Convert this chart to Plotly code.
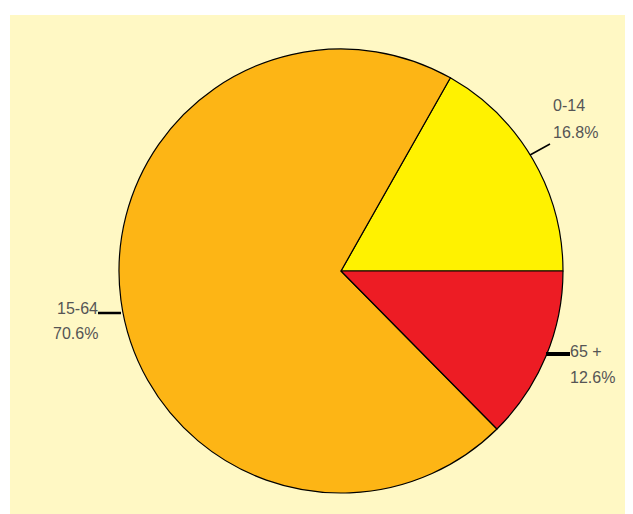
import plotly.graph_objects as go

labels = ["0-14", "15-64", "65 +"]
values = [16.8, 70.6, 12.6]
colors = ["#FFF200", "#FDB515", "#ED1C24"]

OFF = 8  # page body margin
W, H = 633 - OFF, 514 - OFF
ML, MT = 10 - OFF, 15 - OFF
PW, PH = W - ML, H - MT

def px(X):
    return (X - OFF - ML) / PW

def py(Y):
    return (H - (Y - OFF)) / PH

# counterclockwise slices, first slice (0-14) beginning at 3 o'clock
rot = 90 - 360 * values[0] / sum(values)

fig = go.Figure(go.Pie(
    labels=labels,
    values=values,
    marker=dict(colors=colors, line=dict(color="#000000", width=1.2)),
    sort=False,
    direction="counterclockwise",
    rotation=rot,
    textinfo="none",
    hoverinfo="label+percent",
    domain=dict(x=[px(119), px(563)], y=[py(493), py(49)]),
    showlegend=False,
))

font = dict(family="Liberation Sans, Arial, sans-serif", size=16, color="#555555")

label_pos = [
    (551, 106, 132, "left"),
    (100, 309, 333, "right"),
    (568, 351, 377, "left"),
]
annotations = []
for (lab, val), (x, y1, y2, anc) in zip(zip(labels, values), label_pos):
    annotations.append(dict(x=px(x), y=py(y1), xref="paper", yref="paper", text=lab,
                            showarrow=False, xanchor=anc, yanchor="middle", font=font))
    annotations.append(dict(x=px(x), y=py(y2), xref="paper", yref="paper", text=f"{val:.1f}%",
                            showarrow=False, xanchor=anc, yanchor="middle", font=font))

leaders = [
    ((530, 155), (550, 144), 1.5),
    ((98, 313), (121, 313), 2.5),
    ((546, 354), (570, 354), 4),
]
shapes = [dict(type="rect", xref="paper", yref="paper", x0=0, x1=1, y0=0, y1=1,
               fillcolor="#FFF8C4", line=dict(width=0), layer="below")]
for (a, b, w) in leaders:
    shapes.append(dict(type="line", xref="paper", yref="paper",
                       x0=px(a[0]), y0=py(a[1]), x1=px(b[0]), y1=py(b[1]),
                       line=dict(color="#000000", width=w)))

fig.update_layout(
    width=W, height=H,
    margin=dict(l=ML, r=0, t=MT, b=0, pad=0),
    paper_bgcolor="#FFFFFF",
    annotations=annotations,
    shapes=shapes,
)

fig.write_html("out.html")
